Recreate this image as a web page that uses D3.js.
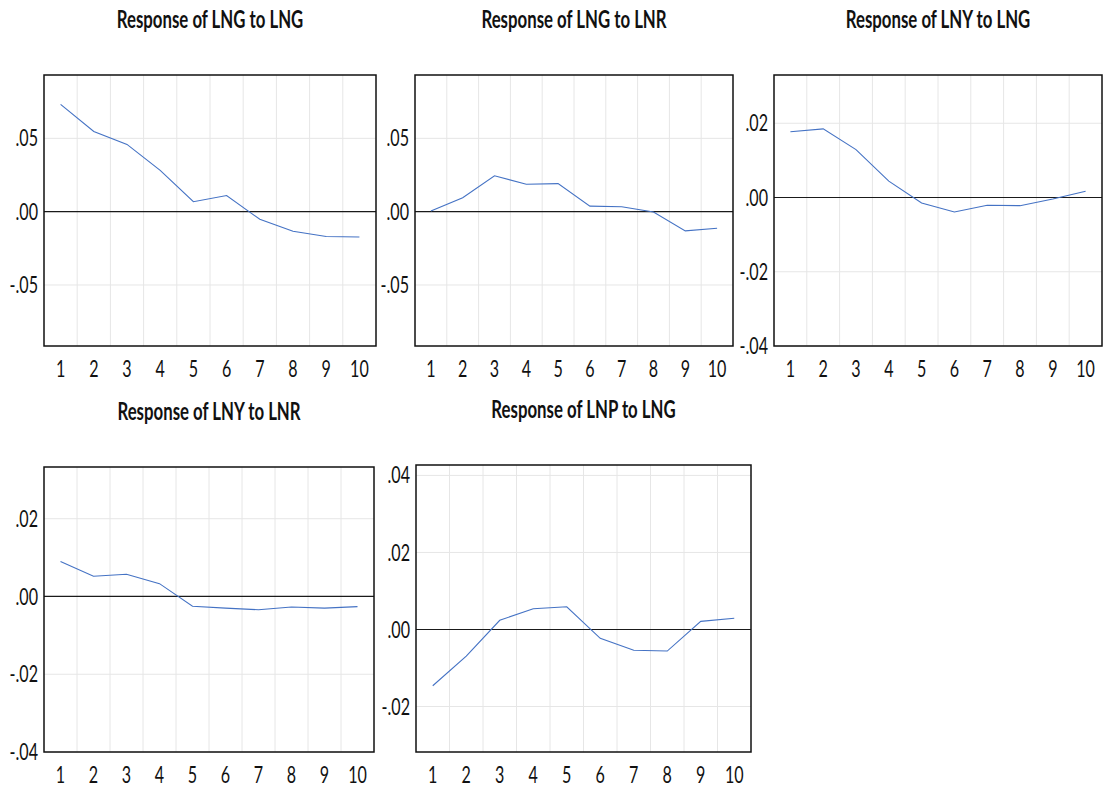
<!DOCTYPE html>
<html>
<head>
<meta charset="utf-8">
<script src="https://cdn.jsdelivr.net/npm/d3@7"></script>
<style>
  body { margin: 0; background: #fff; }
  svg { display: block; }
  .grid line { stroke: #e6e6e6; stroke-width: 1px; }
  .zero { stroke: #1a1a1a; stroke-width: 1.2px; }
  .frame { fill: none; stroke: #111; stroke-width: 1.5px; }
  .irf { fill: none; stroke: #4472c4; stroke-width: 1.1px; }
  text { font-family: Lato, "Open Sans", sans-serif; fill: #111; }
  .title { font-weight: bold; font-size: 24px; }
  .tick-label { font-size: 23px; }
</style>
</head>
<body>
<svg width="1104" height="792"></svg>
<script>
var periods = [1, 2, 3, 4, 5, 6, 7, 8, 9, 10];

// impulse responses
var lngToLng = [0.0732, 0.0547, 0.0459, 0.0282, 0.0068, 0.0110, -0.0052, -0.0133, -0.0169, -0.0173];
var lngToLnr = [0.0005, 0.0095, 0.0245, 0.0187, 0.0191, 0.0038, 0.0034, -0.0002, -0.0131, -0.0113];
var lnyToLng = [0.0177, 0.0185, 0.0129, 0.0044, -0.0015, -0.0039, -0.0021, -0.0022, -0.0004, 0.0017];
var lnyToLnr = [0.0090, 0.0052, 0.0057, 0.0033, -0.0025, -0.0030, -0.0034, -0.0027, -0.0030, -0.0026];
var lnpToLng = [-0.0146, -0.0069, 0.0024, 0.0054, 0.0059, -0.0023, -0.0054, -0.0056, 0.0021, 0.0029];

var ticksWide = [-0.05, 0, 0.05];
var ticksNarrow = [-0.04, -0.02, 0, 0.02];
var ticksLnp = [-0.02, 0, 0.02, 0.04];

var panels = [
  {title: "Response of LNG to LNG", values: lngToLng, ticks: ticksWide,   domain: [-0.0916, 0.0932], box: [44, 376, 75, 346]},
  {title: "Response of LNG to LNR", values: lngToLnr, ticks: ticksWide,   domain: [-0.0916, 0.0932], box: [415, 733, 75, 346]},
  {title: "Response of LNY to LNG", values: lnyToLng, ticks: ticksNarrow, domain: [-0.04, 0.033],    box: [774, 1102, 75, 346]},
  {title: "Response of LNY to LNR", values: lnyToLnr, ticks: ticksNarrow, domain: [-0.04, 0.0333],   box: [44, 374, 467, 752]},
  {title: "Response of LNP to LNG", values: lnpToLng, ticks: ticksLnp,    domain: [-0.0318, 0.0427], box: [416, 751, 465, 752]}
];

var svg = d3.select("svg");
var squeeze = 0.7;
var fmt = function(v) {
  if (v === 0) return ".00";
  return d3.format(".2f")(v).replace("\u2212", "-").replace("0.", ".");
};

panels.forEach(function(p) {
  var left = p.box[0], right = p.box[1], top = p.box[2], bottom = p.box[3];

  var x = d3.scaleBand().domain(periods).range([left, right]);
  var y = d3.scaleLinear().domain(p.domain).range([bottom, top]);
  var mid = function(d) { return x(d) + x.bandwidth() / 2; };

  var g = svg.append("g");

  // horizontal grid at tick values, vertical grid between periods
  var grid = g.append("g").attr("class", "grid");
  grid.selectAll("line.h")
    .data(p.ticks.filter(function(t) { return t !== 0; }))
    .enter().append("line")
    .attr("x1", left).attr("x2", right)
    .attr("y1", function(d) { return y(d); })
    .attr("y2", function(d) { return y(d); });
  grid.selectAll("line.v")
    .data(periods.slice(1))
    .enter().append("line")
    .attr("x1", function(d) { return x(d); })
    .attr("x2", function(d) { return x(d); })
    .attr("y1", top).attr("y2", bottom);

  g.append("line").attr("class", "zero")
    .attr("x1", left).attr("x2", right)
    .attr("y1", y(0)).attr("y2", y(0));

  var line = d3.line()
    .x(function(d, i) { return mid(periods[i]); })
    .y(function(d) { return y(d); });
  g.append("path").attr("class", "irf").attr("d", line(p.values));

  g.append("rect").attr("class", "frame")
    .attr("x", left).attr("y", top)
    .attr("width", right - left).attr("height", bottom - top);

  // y tick labels
  g.selectAll("text.ylab")
    .data(p.ticks)
    .enter().append("text")
    .attr("class", "tick-label")
    .attr("text-anchor", "end")
    .attr("dy", "0.35em")
    .attr("transform", function(d) { return "translate(" + (left - 6) + "," + y(d) + ") scale(" + squeeze + ",1)"; })
    .text(fmt);

  // x tick labels
  g.selectAll("text.xlab")
    .data(periods)
    .enter().append("text")
    .attr("class", "tick-label")
    .attr("text-anchor", "middle")
    .attr("transform", function(d) { return "translate(" + mid(d) + "," + (bottom + 31) + ") scale(" + squeeze + ",1)"; })
    .text(function(d) { return d; });

  g.append("text")
    .attr("class", "title")
    .attr("text-anchor", "middle")
    .attr("transform", "translate(" + ((left + right) / 2) + "," + (top - 47) + ") scale(" + squeeze + ",1)")
    .text(p.title);
});
</script>
</body>
</html>
